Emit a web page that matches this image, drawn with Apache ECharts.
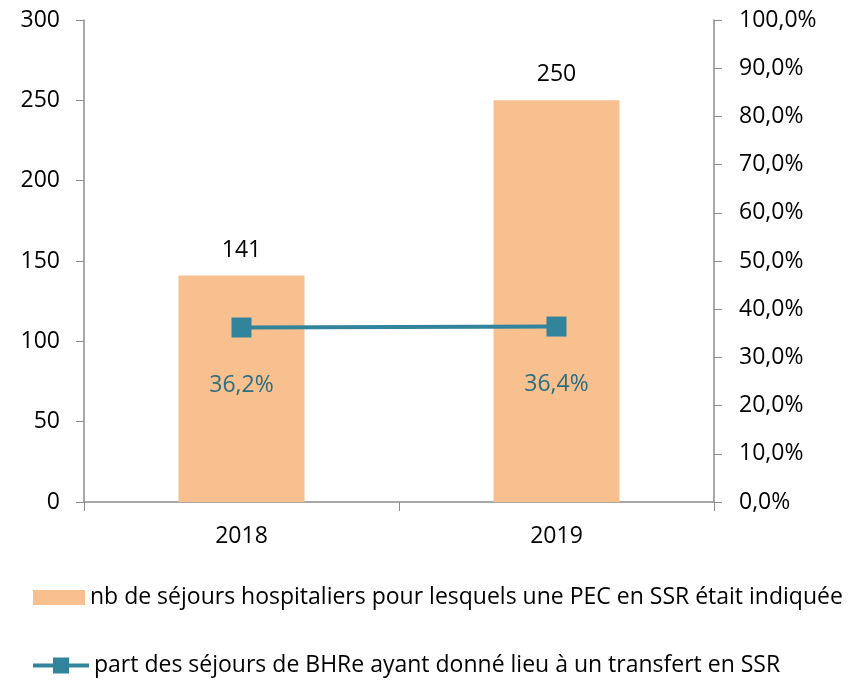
<!DOCTYPE html>
<html>
<head>
<meta charset="utf-8">
<script src="https://cdn.jsdelivr.net/npm/echarts@6/dist/echarts.min.js"></script>
<style>
  html, body { margin: 0; padding: 0; background: #ffffff; }
  #chart { width: 864px; height: 681px; }
</style>
</head>
<body>
<div id="chart"></div>
<script>
var years = ["2018", "2019"];
var sejoursSSR = [141, 250];
var partTransfert = [36.2, 36.4];

var barName = "nb de séjours hospitaliers pour lesquels une PEC en SSR était indiquée";
var lineName = "part des séjours de BHRe ayant donné lieu à un transfert en SSR";

var fontName = "'Open Sans', 'Noto Sans', sans-serif";
var axisGray = "#8c8c8c";

function pct(v) {
  return v.toFixed(1).replace(".", ",") + "%";
}

var chart = echarts.init(document.getElementById("chart"));
chart.setOption({
  animation: false,
  textStyle: { fontFamily: fontName },
  grid: { left: 84, right: 150, top: 20, bottom: 179 },
  legend: [
    {
      data: [{ name: barName, icon: "rect" }],
      left: 28,
      top: 581,
      itemWidth: 52,
      itemHeight: 15,
      itemGap: 4,
      textStyle: { fontSize: 23, color: "#000", fontFamily: fontName }
    },
    {
      data: [lineName],
      left: 26,
      top: 649,
      itemWidth: 56,
      itemHeight: 20,
      itemGap: 3,
      lineStyle: { width: 4 },
      textStyle: { fontSize: 23, color: "#000", fontFamily: fontName }
    }
  ],
  xAxis: {
    type: "category",
    data: years,
    axisLine: { lineStyle: { color: axisGray, width: 1.5 } },
    axisTick: { show: true, length: 9, inside: false, lineStyle: { color: axisGray } },
    axisLabel: { fontSize: 23, color: "#000", margin: 23 }
  },
  yAxis: [
    {
      type: "value",
      min: 0,
      max: 300,
      interval: 50,
      splitLine: { show: false },
      axisLine: { show: true, lineStyle: { color: axisGray, width: 1.5 } },
      axisTick: { show: true, length: 8, lineStyle: { color: axisGray } },
      axisLabel: { fontSize: 23, color: "#000", margin: 24 }
    },
    {
      type: "value",
      min: 0,
      max: 100,
      interval: 10,
      position: "right",
      splitLine: { show: false },
      axisLine: { show: true, lineStyle: { color: axisGray, width: 1.5 } },
      axisTick: { show: true, length: 8, lineStyle: { color: axisGray } },
      axisLabel: {
        fontSize: 23,
        color: "#000",
        margin: 25,
        formatter: pct
      }
    }
  ],
  series: [
    {
      name: barName,
      type: "bar",
      data: sejoursSSR,
      barWidth: "40%",
      itemStyle: { color: "#F9C08F" },
      label: {
        show: true,
        position: "top",
        distance: 14,
        fontSize: 23,
        color: "#000"
      }
    },
    {
      name: lineName,
      type: "line",
      yAxisIndex: 1,
      data: partTransfert,
      symbol: "rect",
      symbolSize: 20,
      lineStyle: { color: "#31849B", width: 4 },
      itemStyle: { color: "#31849B" },
      label: {
        show: true,
        position: "bottom",
        distance: 36,
        fontSize: 23,
        color: "#2D6E80",
        formatter: function (p) { return pct(p.value); }
      }
    }
  ]
});
</script>
</body>
</html>
